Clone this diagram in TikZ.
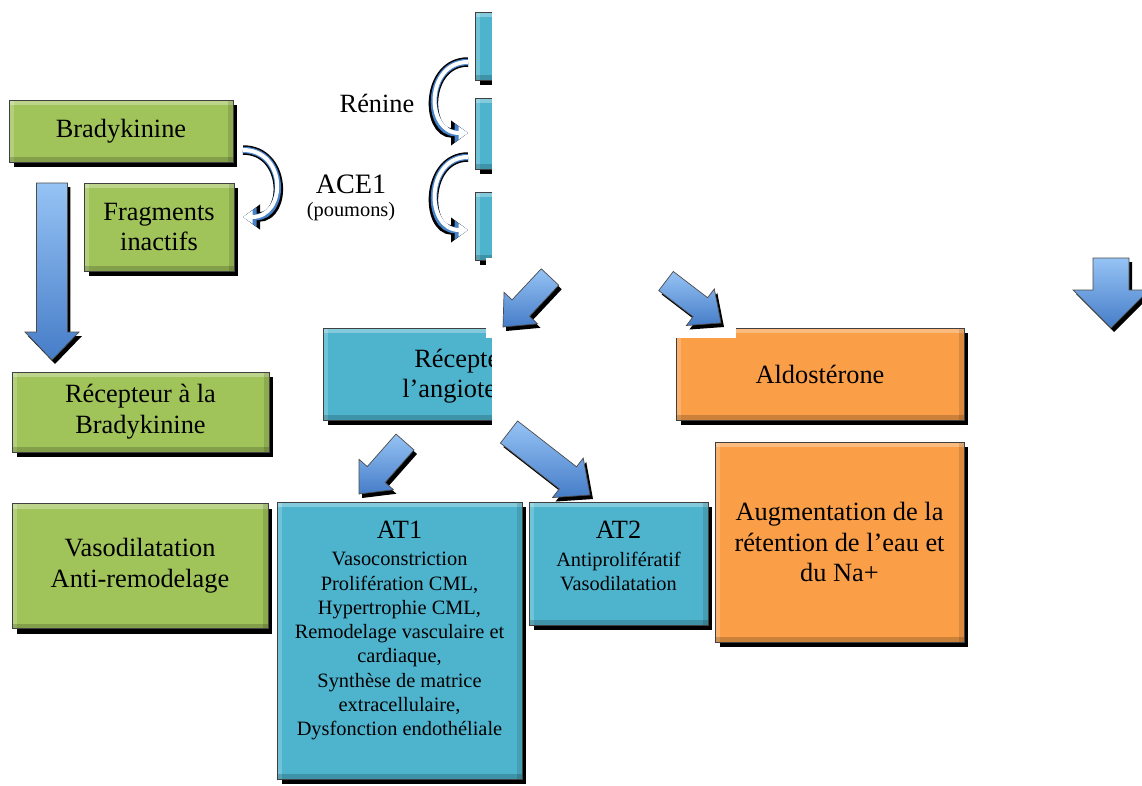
\documentclass[tikz,border=0pt]{standalone}
\usepackage{fontspec}
\setmainfont{Liberation Serif}
\usetikzlibrary{calc,shadows,arrows.meta}

\definecolor{boxgreen}{RGB}{160,195,90}
\definecolor{boxblue}{RGB}{78,180,206}
\definecolor{boxorange}{RGB}{250,158,72}
\definecolor{arrowlight}{RGB}{150,195,245}
\definecolor{arrowdark}{RGB}{70,125,200}
\definecolor{curveblue}{RGB}{70,130,200}

% outline of a block arrow: tail, tip, half shaft, half head (uses coordinate ah)
\newcommand{\arrowoutline}[4]{($(#1)!#3!90:(#2)$) -- ($(ah)!#3!90:(#2)$) -- ($(ah)!#4!90:(#2)$) -- (#2)
  -- ($(ah)!#4!-90:(#2)$) -- ($(ah)!#3!-90:(#2)$) -- ($(#1)!#3!-90:(#2)$) -- cycle}
\newcommand{\blockarrow}[5]{%
  \coordinate (ah) at ($(#2)!#5!(#1)$);
  \fill[black, transform canvas={shift={(0.06cm,-0.08cm)}}] \arrowoutline{#1}{#2}{#3}{#4};
  \path[top color=arrowlight, bottom color=arrowdark, draw=black!70, line width=0.4pt] \arrowoutline{#1}{#2}{#3}{#4};
}
\newcommand{\curvedarrow}[3]{%
  \draw[line width=0.19cm, black, -{Triangle[length=0.34cm,width=0.48cm]}] (#1) .. controls +(#3,0) and +(#3,0) .. (#2);
  \draw[line width=0.13cm, curveblue, -{Triangle[length=0.27cm,width=0.37cm]}] (#1) .. controls +(#3,0) and +(#3,0) .. (#2);
  \draw[line width=0.08cm, white, -{Triangle[length=0.19cm,width=0.25cm]}] (#1) .. controls +(#3,0) and +(#3,0) .. (#2);
}

\begin{document}
\begin{tikzpicture}[x=0.02cm, y=-0.02cm,
    bevelbox/.style={rectangle, draw=black!75, line width=0.5pt, inner sep=2pt,
        align=center, font=\fontsize{15}{17.5}\selectfont,
        drop shadow={shadow xshift=0.09cm, shadow yshift=-0.1cm, fill=black, opacity=1},
        path picture={
            \fill[white, opacity=.3] (path picture bounding box.north west) rectangle ([yshift=-0.1cm]path picture bounding box.north east);
            \fill[white, opacity=.2] (path picture bounding box.north west) rectangle ([xshift=0.1cm]path picture bounding box.south west);
            \fill[black, opacity=.18] (path picture bounding box.south west) rectangle ([yshift=0.1cm]path picture bounding box.south east);
            \fill[black, opacity=.12] (path picture bounding box.south east) rectangle ([xshift=-0.1cm]path picture bounding box.north east);
        }},
    greenbox/.style={bevelbox, fill=boxgreen},
    bluebox/.style={bevelbox, fill=boxblue},
    orangebox/.style={bevelbox, fill=boxorange},
    bigtxt/.style={inner sep=0pt, font=\fontsize{15}{17}\selectfont},
    smalltxt/.style={inner sep=0pt, align=center, font=\fontsize{11.6}{13.8}\selectfont}
]
    \useasboundingbox (0,0) rectangle (1142,785);
    \fill[white] (0,0) rectangle (1142,785);

    % boxes partly hidden
    \node[bluebox, minimum width=4.5cm, minimum height=1.36cm] (angtop) at (587.5,46) {};
    \node[bluebox, minimum width=4.5cm, minimum height=1.42cm] (angmid) at (587.5,133.5) {};
    \node[bluebox, minimum width=4.5cm, minimum height=1.36cm] (angbot) at (587.5,226) {};
    \node[bluebox, minimum width=6.74cm, minimum height=1.84cm] (recang) at (491.5,374) {};
    \node[bigtxt, anchor=base west] (recangA) at (414,367) {Récepte};
    \node[bigtxt, anchor=base west] (recangB) at (402,397) {l’angiote};
    \node[orangebox, minimum width=5.76cm, minimum height=1.84cm] (aldo) at (820,374) {Aldostérone};

    % white cover
    \fill[white] (492,0) rectangle (1142,258);
    \fill[white] (486,258) rectangle (736,338);
    \fill[white] (492,338) rectangle (676,425);

    % bradykinine side
    \node[greenbox, minimum width=4.48cm, minimum height=1.24cm] (brady) at (121,131) {Bradykinine};
    \node[greenbox, minimum width=3.0cm, minimum height=1.76cm] (frag) at (159,227) {Fragments\\inactifs};
    \node[greenbox, minimum width=5.14cm, minimum height=1.6cm] (recbrady) at (140.5,412) {Récepteur à la\\Bradykinine};
    \node[greenbox, minimum width=5.12cm, minimum height=2.5cm] (vaso) at (140,566) {Vasodilatation\\Anti-remodelage};

    % receptors
    \node[bluebox, minimum width=4.9cm, minimum height=5.54cm] (at1) at (399.5,640.5) {};
    \node[bigtxt, anchor=base] (at1title) at (399.5,538) {AT1};
    \node[smalltxt, anchor=north] (at1text) at (399.5,552) {Vasoconstriction\\Prolifération CML,\\Hypertrophie CML,\\Remodelage vasculaire et\\cardiaque,\\Synthèse de matrice\\extracellulaire,\\Dysfonction endothéliale};
    \node[bluebox, minimum width=3.58cm, minimum height=2.46cm] (at2) at (618.5,563.5) {};
    \node[bigtxt, anchor=base] (at2title) at (618.5,538) {AT2};
    \node[smalltxt, anchor=north] (at2text) at (618.5,552) {Antiprolifératif\\Vasodilatation};
    \node[orangebox, minimum width=4.98cm, minimum height=4.0cm] (augm) at (839.5,542) {Augmentation de la\\rétention de l’eau et\\du Na+};

    % enzymes
    \node[bigtxt, anchor=base] (renine) at (377,112) {Rénine};
    \node[inner sep=0pt, anchor=base, font=\fontsize{16}{18}\selectfont] (ace) at (351,193) {ACE1};
    \node[inner sep=0pt, anchor=base, font=\fontsize{11.6}{13}\selectfont] (poumons) at (351,216) {(poumons)};

    % curved arrows
    \coordinate (bkA) at (243,150);
    \coordinate (bkB) at (243,217);
    \coordinate (reA) at (468,62);
    \coordinate (reB) at (468,133);
    \coordinate (acA) at (468,157);
    \coordinate (acB) at (468,230);
    \curvedarrow{bkA}{bkB}{44}
    \curvedarrow{reA}{reB}{-43}
    \curvedarrow{acA}{acB}{-43}

    % block arrows
    \coordinate (brTail) at (52,183);
    \coordinate (brTip) at (52,360);
    \coordinate (tlTail) at (550,277);
    \coordinate (tlTip) at (503,327);
    \coordinate (trTail) at (666,281);
    \coordinate (trTip) at (721,323);
    \coordinate (aoTail) at (405,442);
    \coordinate (aoTip) at (359,494);
    \coordinate (atTail) at (509,432);
    \coordinate (atTip) at (590,495);
    \coordinate (rtTail) at (1111,258);
    \coordinate (rtTip) at (1111,328);
    \blockarrow{brTail}{brTip}{0.31cm}{0.54cm}{0.56cm}
    \blockarrow{tlTail}{tlTip}{0.24cm}{0.46cm}{0.52cm}
    \blockarrow{trTail}{trTip}{0.24cm}{0.46cm}{0.52cm}
    \blockarrow{aoTail}{aoTip}{0.24cm}{0.46cm}{0.52cm}
    \blockarrow{atTail}{atTip}{0.28cm}{0.5cm}{0.56cm}
    \blockarrow{rtTail}{rtTip}{0.36cm}{0.76cm}{0.76cm}
\end{tikzpicture}
\end{document}
